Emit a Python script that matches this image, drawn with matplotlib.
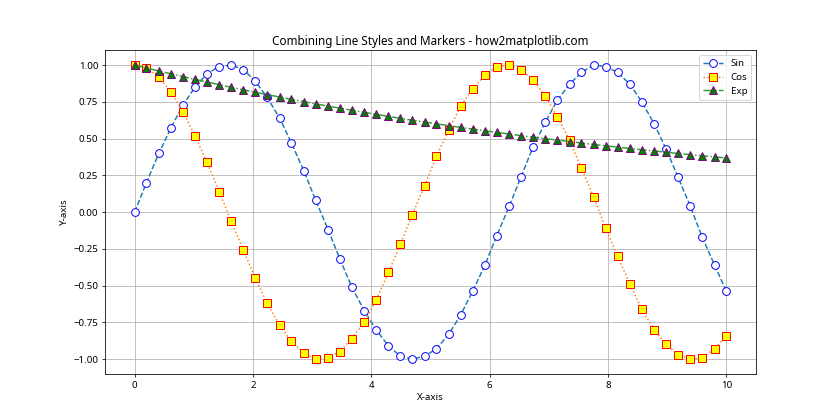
import matplotlib
matplotlib.use("Agg")
import matplotlib.pyplot as plt

plt.rcParams['font.family'] = ['Noto Sans', 'DejaVu Sans']

# x positions (50 samples between 0 and 10)
x = [0.00, 0.20, 0.41, 0.61, 0.82, 1.02, 1.22, 1.43, 1.63, 1.84,
     2.04, 2.24, 2.45, 2.65, 2.86, 3.06, 3.27, 3.47, 3.67, 3.88,
     4.08, 4.29, 4.49, 4.69, 4.90, 5.10, 5.31, 5.51, 5.71, 5.92,
     6.12, 6.33, 6.53, 6.73, 6.94, 7.14, 7.35, 7.55, 7.76, 7.96,
     8.16, 8.37, 8.57, 8.78, 8.98, 9.18, 9.39, 9.59, 9.80, 10.00]

sin_vals = [0.00, 0.20, 0.40, 0.57, 0.73, 0.85, 0.94, 0.99, 1.00, 0.97,
            0.89, 0.78, 0.64, 0.47, 0.28, 0.08, -0.12, -0.32, -0.51, -0.67,
            -0.80, -0.91, -0.98, -1.00, -0.98, -0.93, -0.83, -0.70, -0.54, -0.36,
            -0.16, 0.04, 0.24, 0.44, 0.61, 0.76, 0.87, 0.95, 1.00, 0.99,
            0.95, 0.87, 0.75, 0.60, 0.43, 0.24, 0.04, -0.17, -0.36, -0.54]

cos_vals = [1.00, 0.98, 0.92, 0.82, 0.68, 0.52, 0.34, 0.14, -0.06, -0.26,
            -0.45, -0.62, -0.77, -0.88, -0.96, -1.00, -0.99, -0.95, -0.86, -0.75,
            -0.60, -0.41, -0.22, -0.02, 0.18, 0.38, 0.56, 0.72, 0.84, 0.93,
            0.99, 1.00, 0.97, 0.90, 0.79, 0.65, 0.49, 0.30, 0.10, -0.11,
            -0.30, -0.49, -0.66, -0.80, -0.90, -0.97, -1.00, -0.99, -0.93, -0.84]

exp_vals = [1.000, 0.980, 0.960, 0.941, 0.922, 0.903, 0.885, 0.867, 0.849, 0.832,
            0.815, 0.799, 0.783, 0.767, 0.752, 0.736, 0.721, 0.707, 0.693, 0.679,
            0.665, 0.651, 0.638, 0.625, 0.613, 0.600, 0.588, 0.576, 0.565, 0.553,
            0.542, 0.531, 0.520, 0.510, 0.500, 0.490, 0.480, 0.470, 0.460, 0.451,
            0.442, 0.433, 0.424, 0.416, 0.407, 0.399, 0.391, 0.383, 0.376, 0.368]

fig, ax = plt.subplots(figsize=(12, 6), dpi=70)

ax.plot(x, sin_vals, linestyle='--', marker='o', color='C0', markersize=8,
        markerfacecolor='white', markeredgecolor='blue', label='Sin')
ax.plot(x, cos_vals, linestyle=':', marker='s', color='C1', markersize=8,
        markerfacecolor='yellow', markeredgecolor='red', label='Cos')
ax.plot(x, exp_vals, linestyle='-.', marker='^', color='C2', markersize=8,
        markerfacecolor='green', markeredgecolor='purple', label='Exp')

ax.set_title('Combining Line Styles and Markers - how2matplotlib.com')
ax.set_xlabel('X-axis')
ax.set_ylabel('Y-axis')
ax.grid(True)
ax.legend()

fig.savefig('out.png')
